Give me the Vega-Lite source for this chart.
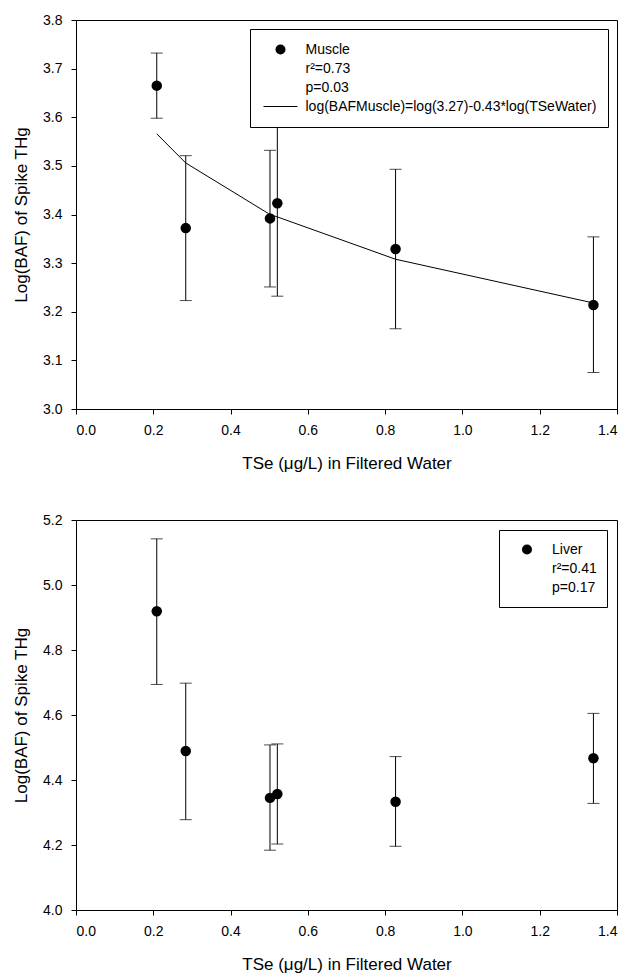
{
  "$schema": "https://vega.github.io/schema/vega-lite/v6.json",
  "padding": {"left": 12, "top": 12, "right": 5, "bottom": 5},
  "background": "white",
  "config": {
    "font": "Liberation Sans",
    "view": {"stroke": "black", "strokeWidth": 1},
    "axis": {"grid": false, "domainColor": "black", "tickColor": "black", "tickSize": 5, "labelFontSize": 14, "labelColor": "black", "titleFontSize": 17, "titleFontWeight": "normal", "titleColor": "black"},
    "axisX": {"labelPadding": 9, "titlePadding": 18},
    "axisY": {"labelPadding": 9, "titlePadding": 12},
    "legend": {"title": null, "orient": "top-right", "strokeColor": "black", "fillColor": "white", "cornerRadius": 0, "labelFontSize": 14, "labelColor": "black", "labelLimit": 0, "clipHeight": 19, "rowPadding": 0, "symbolSize": 100, "symbolFillColor": "black", "symbolStrokeWidth": 0}
  },
  "datasets": {
    "muscle": [
      {"tse": 0.209, "baf": 3.665, "lo": 3.598, "hi": 3.732, "series": "Muscle"},
      {"tse": 0.284, "baf": 3.372, "lo": 3.223, "hi": 3.521, "series": "Muscle"},
      {"tse": 0.502, "baf": 3.392, "lo": 3.251, "hi": 3.532, "series": "Muscle"},
      {"tse": 0.521, "baf": 3.423, "lo": 3.232, "hi": 3.614, "series": "Muscle"},
      {"tse": 0.827, "baf": 3.329, "lo": 3.165, "hi": 3.493, "series": "Muscle"},
      {"tse": 1.339, "baf": 3.214, "lo": 3.075, "hi": 3.354, "series": "Muscle"}
    ],
    "musclefit": [
      {"tse": 0.209, "fit": 3.566},
      {"tse": 0.284, "fit": 3.506},
      {"tse": 0.502, "fit": 3.400},
      {"tse": 0.521, "fit": 3.395},
      {"tse": 0.827, "fit": 3.308},
      {"tse": 1.339, "fit": 3.218}
    ],
    "liver": [
      {"tse": 0.209, "baf": 4.919, "lo": 4.694, "hi": 5.142, "series": "Liver"},
      {"tse": 0.284, "baf": 4.489, "lo": 4.278, "hi": 4.698, "series": "Liver"},
      {"tse": 0.502, "baf": 4.345, "lo": 4.184, "hi": 4.508, "series": "Liver"},
      {"tse": 0.521, "baf": 4.357, "lo": 4.203, "hi": 4.511, "series": "Liver"},
      {"tse": 0.827, "baf": 4.333, "lo": 4.196, "hi": 4.472, "series": "Liver"},
      {"tse": 1.339, "baf": 4.467, "lo": 4.328, "hi": 4.605, "series": "Liver"}
    ]
  },
  "spacing": 40,
  "resolve": {"scale": {"x": "independent", "y": "independent", "shape": "independent"}, "legend": {"shape": "independent"}},
  "vconcat": [
    {
      "width": 541,
      "height": 389,
      "encoding": {
        "x": {"field": "tse", "type": "quantitative", "scale": {"domain": [0, 1.4], "nice": false, "zero": false}, "axis": {"title": "TSe (μg/L) in Filtered Water", "values": [0, 0.2, 0.4, 0.6, 0.8, 1.0, 1.2, 1.4], "format": ".1f"}}
      },
      "layer": [
        {
          "data": {"name": "muscle"},
          "mark": {"type": "rule", "color": "black", "strokeWidth": 1},
          "encoding": {
            "y": {"field": "lo", "type": "quantitative", "scale": {"domain": [3.0, 3.8], "nice": false, "zero": false}, "axis": {"title": "Log(BAF) of Spike THg", "values": [3.0, 3.1, 3.2, 3.3, 3.4, 3.5, 3.6, 3.7, 3.8], "format": ".1f"}},
            "y2": {"field": "hi"}
          }
        },
        {
          "data": {"name": "muscle"},
          "mark": {"type": "tick", "orient": "horizontal", "size": 12, "thickness": 1, "color": "black"},
          "encoding": {"y": {"field": "lo", "type": "quantitative"}}
        },
        {
          "data": {"name": "muscle"},
          "mark": {"type": "tick", "orient": "horizontal", "size": 12, "thickness": 1, "color": "black"},
          "encoding": {"y": {"field": "hi", "type": "quantitative"}}
        },
        {
          "data": {"name": "musclefit"},
          "mark": {"type": "line", "color": "black", "strokeWidth": 1},
          "encoding": {"y": {"field": "fit", "type": "quantitative"}}
        },
        {
          "data": {"name": "muscle"},
          "mark": {"type": "point", "filled": true, "color": "black", "size": 110, "opacity": 1},
          "encoding": {
            "y": {"field": "baf", "type": "quantitative"},
            "shape": {
              "field": "series", "type": "nominal",
              "scale": {"domain": ["Muscle", "r²=0.73", "p=0.03", "log(BAFMuscle)=log(3.27)-0.43*log(TSeWater)"], "range": ["circle", "M0,0", "M0,0", "M-3.4,-0.1H3.4V0.1H-3.4Z"]},
              "legend": {"offset": 9, "padding": 11, "symbolOffset": 12.5, "labelOffset": 18}
            }
          }
        }
      ]
    },
    {
      "width": 541,
      "height": 390,
      "encoding": {
        "x": {"field": "tse", "type": "quantitative", "scale": {"domain": [0, 1.4], "nice": false, "zero": false}, "axis": {"title": "TSe (μg/L) in Filtered Water", "values": [0, 0.2, 0.4, 0.6, 0.8, 1.0, 1.2, 1.4], "format": ".1f"}}
      },
      "layer": [
        {
          "data": {"name": "liver"},
          "mark": {"type": "rule", "color": "black", "strokeWidth": 1},
          "encoding": {
            "y": {"field": "lo", "type": "quantitative", "scale": {"domain": [4.0, 5.2], "nice": false, "zero": false}, "axis": {"title": "Log(BAF) of Spike THg", "values": [4.0, 4.2, 4.4, 4.6, 4.8, 5.0, 5.2], "format": ".1f"}},
            "y2": {"field": "hi"}
          }
        },
        {
          "data": {"name": "liver"},
          "mark": {"type": "tick", "orient": "horizontal", "size": 12, "thickness": 1, "color": "black"},
          "encoding": {"y": {"field": "lo", "type": "quantitative"}}
        },
        {
          "data": {"name": "liver"},
          "mark": {"type": "tick", "orient": "horizontal", "size": 12, "thickness": 1, "color": "black"},
          "encoding": {"y": {"field": "hi", "type": "quantitative"}}
        },
        {
          "data": {"name": "liver"},
          "mark": {"type": "point", "filled": true, "color": "black", "size": 110, "opacity": 1},
          "encoding": {
            "y": {"field": "baf", "type": "quantitative"},
            "shape": {
              "field": "series", "type": "nominal",
              "scale": {"domain": ["Liver", "r²=0.41", "p=0.17"], "range": ["circle", "M0,0", "M0,0"]},
              "legend": {"offset": 10, "padding": 10, "symbolOffset": 11, "labelOffset": 18}
            }
          }
        }
      ]
    }
  ]
}
